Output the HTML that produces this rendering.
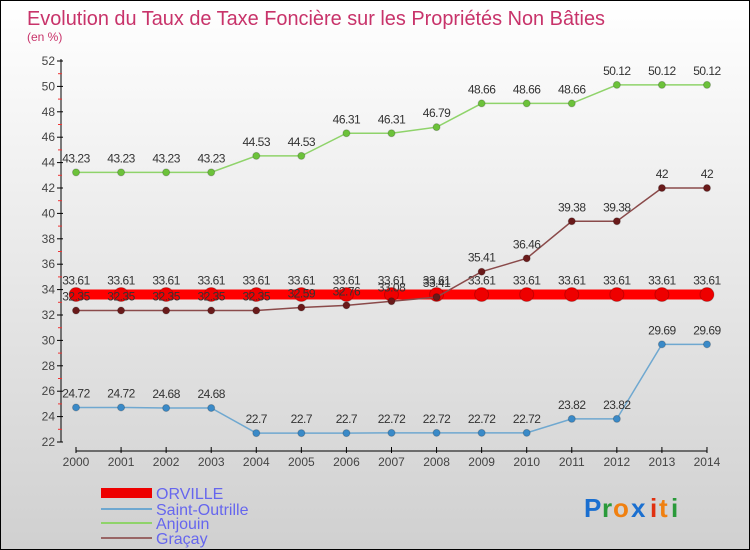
<!DOCTYPE html>
<html><head><meta charset="utf-8"><style>
body{margin:0}
#wrap{position:relative;width:748px;height:548px;border:1px solid #000;background:linear-gradient(#fff,#d0d0d0);font-family:"Liberation Sans",sans-serif;overflow:hidden}
</style></head><body>
<div id="wrap">
<svg id="svg" width="748" height="548" xmlns="http://www.w3.org/2000/svg" style="position:absolute;left:0;top:0">
<text x="26" y="24" font-size="20" fill="#c8336a" textLength="578" lengthAdjust="spacingAndGlyphs">Evolution du Taux de Taxe Foncière sur les Propriétés Non Bâties</text>
<text x="26" y="40" font-size="12" fill="#c8336a">(en %)</text>
<g id="axes"></g><g id="series"></g>
<g>
<rect x="100" y="487" width="51" height="10" fill="#e00"/>
<text x="155" y="498" font-size="16" fill="#6666ee">ORVILLE</text>
<line x1="100" y1="508" x2="151" y2="508" stroke="#6fa8d0" stroke-width="2"/>
<text x="155" y="514" font-size="16" fill="#6666ee">Saint-Outrille</text>
<line x1="100" y1="522" x2="151" y2="522" stroke="#8fd36a" stroke-width="2"/>
<text x="155" y="528" font-size="16" fill="#6666ee">Anjouin</text>
<line x1="100" y1="537" x2="151" y2="537" stroke="#966" stroke-width="2"/>
<text x="155" y="543" font-size="16" fill="#6666ee">Graçay</text>
</g>
<g font-size="26" font-weight="bold">
<text x="583" y="516" fill="#1a6fd0">P</text><text x="601" y="516" fill="#2a9a3a">r</text><text x="612" y="516" fill="#f08010">o</text><text x="630" y="516" fill="#1a6fd0">x</text><text x="649" y="516" fill="#e03010">i</text><text x="658" y="516" fill="#f08010">t</text><text x="670" y="516" fill="#2a9a3a">i</text>
</g>
</svg>
</div>
<script>
const years=[2000,2001,2002,2003,2004,2005,2006,2007,2008,2009,2010,2011,2012,2013,2014];
const yTicks=[22,24,26,28,30,32,34,36,38,40,42,44,46,48,50,52];
const orville=[33.61,33.61,33.61,33.61,33.61,33.61,33.61,33.61,33.61,33.61,33.61,33.61,33.61,33.61,33.61];
const saintOutrille=[24.72,24.72,24.68,24.68,22.7,22.7,22.7,22.72,22.72,22.72,22.72,23.82,23.82,29.69,29.69];
const anjouin=[43.23,43.23,43.23,43.23,44.53,44.53,46.31,46.31,46.79,48.66,48.66,48.66,50.12,50.12,50.12];
const gracay=[32.35,32.35,32.35,32.35,32.35,32.59,32.76,33.08,33.41,35.41,36.46,39.38,39.38,42,42];
const NS="http://www.w3.org/2000/svg";
const X=i=>75+i*45.07, Y=v=>441-(v-22)*12.7;
function mk(p,t,a){const e=document.createElementNS(NS,t);for(const k in a)e.setAttribute(k,a[k]);p.appendChild(e);return e;}
const ax=document.getElementById('axes'), sg=document.getElementById('series');
let l=mk(ax,'line',{x1:60,y1:58,x2:60,y2:441,stroke:'#000'});


yTicks.forEach(v=>{mk(ax,'line',{x1:56,y1:Y(v),x2:62,y2:Y(v),stroke:'#000'});
 mk(ax,'line',{x1:57,y1:Y(v+1),x2:61,y2:Y(v+1),stroke:v<52?'#e33':'none'});
 const t=mk(ax,'text',{x:54,y:Y(v)+4,'font-size':12,fill:'#444','text-anchor':'end'});t.textContent=v;
 
 });
l=mk(ax,'line',{x1:75,y1:450,x2:706,y2:450,stroke:'#000'});


years.forEach((y,i)=>{mk(ax,'line',{x1:X(i),y1:446,x2:X(i),y2:452,stroke:'#000'});
 const t=mk(ax,'text',{x:X(i),y:465,'font-size':12,fill:'#444','text-anchor':'middle'});t.textContent=y;
 
 });
function series(d,name,col,dot,w,r){
 const g=mk(sg,'g',{});
 
 
 mk(g,'polyline',{points:d.map((v,i)=>X(i)+','+Y(v)).join(' '),fill:'none',stroke:col,'stroke-width':w});
 d.forEach((v,i)=>{const c=mk(g,'circle',{cx:X(i),cy:Y(v),r:r,fill:dot,stroke:'#0003'});
  
  
  const t=mk(g,'text',{x:X(i),y:Y(v)-10,'font-size':12,fill:'#333','text-anchor':'middle','letter-spacing':'-0.5'});t.textContent=v;
  
  });
}
series(orville,'orville','#f00','#e00',10,7);
series(saintOutrille,'saint-outrille','#6fa8d0','#3a8ac8',1.5,3.5);
series(anjouin,'anjouin','#8fd36a','#6cc23a',1.5,3.5);
series(gracay,'gracay','#8a4a4a','#6a1a1a',1.5,3.5);
</script>
</body></html>
